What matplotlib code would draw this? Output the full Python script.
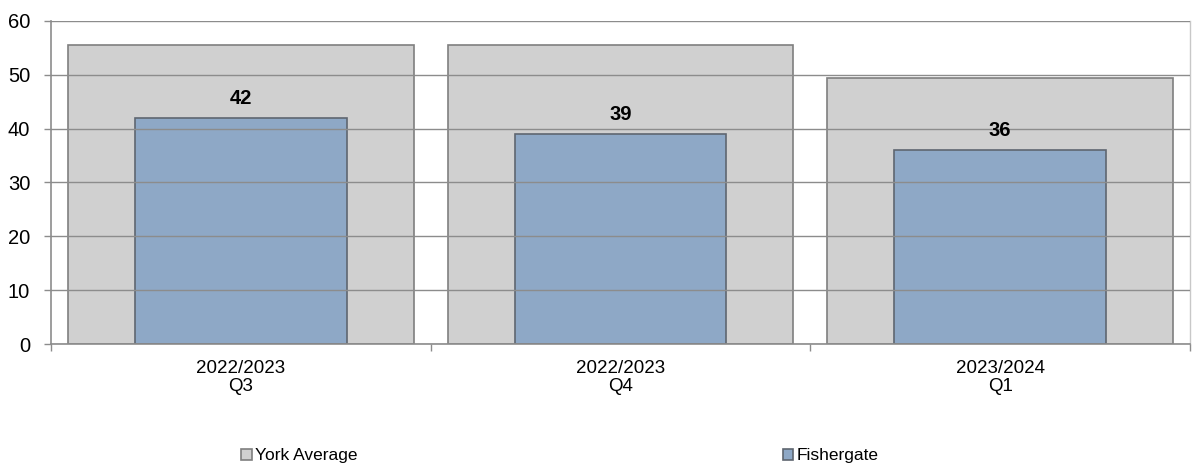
import matplotlib
matplotlib.use("Agg")
import matplotlib.pyplot as plt
import numpy as np

plt.rcParams['font.family'] = ['Liberation Sans', 'DejaVu Sans']

categories = ["2022/2023\nQ3", "2022/2023\nQ4", "2023/2024\nQ1"]
york_average = [55.5, 55.5, 49.4]
fishergate = [42, 39, 36]
series_names = ["York Average", "Fishergate"]
y_ticks = [0, 10, 20, 30, 40, 50, 60]

W, H = 1197, 468
fig = plt.figure(figsize=(W / 100, H / 100), dpi=100)
ax = fig.add_axes([51 / W, 123.7 / H, 1139 / W, 323.6 / H])

x = np.arange(len(categories))
b1 = ax.bar(x, york_average, width=0.91, color="#d0d0d0", edgecolor="#7f7f7f",
            linewidth=1.2, zorder=1, label=series_names[0])
b2 = ax.bar(x, fishergate, width=0.557, color="#8ea8c6", edgecolor="#5f6670",
            linewidth=1.2, zorder=2, label=series_names[1])

ax.set_xlim(-0.5, len(categories) - 0.5)
ax.set_ylim(0, 60)
ax.set_yticks(y_ticks)
ax.set_yticklabels([str(t) for t in y_ticks])
ax.yaxis.grid(True, color="#8c8c8c", linewidth=1.0, zorder=3)
ax.set_axisbelow(False)

# category boundary ticks (major, unlabeled) and centered labels (minor)
ax.set_xticks(np.arange(len(categories) + 1) - 0.5)
ax.set_xticklabels([])
ax.set_xticks(x, minor=True)
ax.set_xticklabels(categories, minor=True, fontsize=13.5, linespacing=1.1)
ax.tick_params(axis="x", which="major", length=5, color="#8c8c8c", width=1)
ax.tick_params(axis="x", which="minor", length=0, pad=11)
ax.tick_params(axis="y", length=5, color="#8c8c8c", width=1, labelsize=14.5, pad=10)

for s in ["left", "bottom"]:
    ax.spines[s].set_color("#8c8c8c")
    ax.spines[s].set_linewidth(1.2)
ax.spines["top"].set_visible(False)
ax.spines["right"].set_color("#c8c8c8")
ax.spines["right"].set_linewidth(1.0)

for xi, v in zip(x, fishergate):
    ax.annotate(str(v), (xi, v), xytext=(0, 14), textcoords="offset points",
                ha="center", va="center", fontsize=14.5, fontweight="bold",
                zorder=5)

fig.legend(handles=[b1, b2], labels=series_names, loc="center",
           bbox_to_anchor=(560 / W, 1 - 455.7 / H), ncol=2, frameon=False,
           fontsize=12.5, handlelength=0.6, handleheight=0.6,
           handletextpad=0.2, columnspacing=24.5)

fig.savefig("out.png", dpi=100)
